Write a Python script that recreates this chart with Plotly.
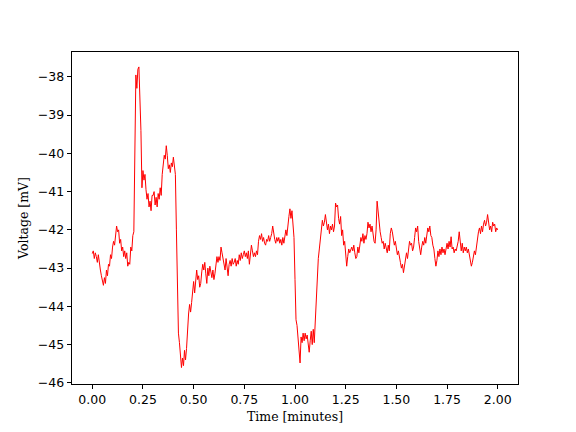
import numpy as np
import plotly.graph_objects as go

# Sampling grid of the recording (minutes)
t_start_min = 0.0
t_end_min = 2.0
n_samples = 401

# Voltage trace (mV), one row per 0.05 min
voltage_mv = [
    -42.62, -42.55, -42.75, -42.60, -42.70, -42.85, -42.65, -42.90, -43.05, -43.20,
    -43.30, -43.45, -43.25, -43.40, -43.05, -43.20, -42.90, -42.95, -42.65, -42.75,
    -42.45, -42.30, -42.40, -42.05, -41.90, -42.05, -42.00, -42.35, -42.25, -42.55,
    -42.45, -42.70, -42.55, -42.75, -42.60, -42.95, -42.85, -42.90, -42.45, -42.55,
    -42.15, -42.05, -39.00, -37.95, -38.30, -37.80, -37.74, -38.40, -39.40, -40.90,
    -40.45, -40.70, -40.55, -40.95, -41.20, -41.05, -41.40, -41.25, -41.50, -41.10,
    -41.10, -41.00, -41.35, -41.15, -41.40, -41.05, -41.20, -40.90, -41.10, -40.55,
    -40.30, -40.05, -40.15, -39.80, -40.05, -40.40, -40.30, -40.50, -40.25, -40.35,
    -40.10, -40.35, -40.55, -42.00, -43.80, -44.70, -44.95, -45.20, -45.60, -45.35,
    -45.55, -45.15, -45.40, -45.10, -44.45, -44.20, -43.95, -44.15, -43.90, -43.55,
    -43.35, -43.65, -43.25, -43.05, -43.30, -43.20, -43.50, -43.40, -43.10, -42.90,
    -43.05, -42.85, -43.15, -43.40, -43.00, -43.20, -42.95, -43.10, -43.25, -43.05,
    -43.30, -43.15, -42.85, -42.70, -42.85, -42.70, -42.80, -42.45, -42.60, -42.75,
    -42.80, -43.05, -42.75, -42.95, -43.20, -42.90, -42.80, -42.95, -42.75, -42.90,
    -42.85, -42.75, -42.95, -42.80, -42.90, -42.65, -42.80, -42.60, -42.75, -42.65,
    -42.55, -42.70, -42.60, -42.75, -42.55, -42.90, -42.60, -42.40, -42.55, -42.70,
    -42.60, -42.70, -42.55, -42.65, -42.30, -42.15, -42.25, -42.10, -42.30, -42.20,
    -42.35, -42.40, -42.25, -42.30, -42.15, -42.30, -42.20, -42.10, -41.90, -42.10,
    -42.25, -42.35, -42.20, -42.30, -42.20, -42.35, -42.25, -42.40, -42.20, -42.35,
    -42.10, -42.00, -42.15, -41.80, -41.65, -41.45, -41.70, -41.50, -41.80, -42.20,
    -43.30, -44.35, -44.50, -44.85, -45.15, -45.48, -44.80, -44.95, -44.70, -44.90,
    -44.70, -44.85, -44.75, -45.00, -45.20, -44.90, -44.65, -45.00, -44.60, -44.95,
    -44.40, -43.50, -43.00, -42.75, -42.50, -42.25, -41.95, -41.75, -41.90, -41.80,
    -41.60, -41.85, -42.00, -41.85, -42.10, -41.90, -42.00, -41.85, -42.05, -41.90,
    -41.30, -41.40, -41.35, -41.70, -41.85, -41.65, -42.15, -42.00, -42.40, -42.30,
    -42.65, -42.95, -42.70, -42.50, -42.60, -42.50, -42.45, -42.55, -42.40, -42.60,
    -42.75, -42.70, -42.45, -42.60, -42.35, -42.20, -42.30, -42.10, -42.35, -42.15,
    -42.25, -42.10, -41.80, -41.95, -41.85, -42.05, -41.90, -42.20, -42.30, -42.35,
    -42.00, -41.25, -41.60, -41.75, -42.05, -42.20, -42.35, -42.30, -42.50, -42.35,
    -42.45, -42.60, -42.40, -42.55, -42.10, -41.95, -42.05, -42.25, -42.40, -42.30,
    -42.50, -42.65, -42.55, -42.75, -42.85, -43.00, -42.90, -43.12, -42.95, -42.80,
    -42.60, -42.75, -42.40, -42.30, -42.40, -42.35, -42.55, -42.45, -42.20, -41.95,
    -42.05, -41.90, -42.30, -42.55, -42.65, -42.45, -42.30, -42.40, -42.20, -42.35,
    -42.10, -41.95, -42.05, -41.90, -42.15, -42.20, -42.40, -42.50, -42.75, -42.95,
    -42.80, -42.55, -42.70, -42.50, -42.65, -42.45, -42.60, -42.50, -42.65, -42.45,
    -42.35, -42.50, -42.30, -42.45, -42.18, -42.50, -42.45, -42.60, -42.50, -42.55,
    -42.45, -42.30, -42.05, -42.40, -42.55, -42.35, -42.60, -42.45, -42.55, -42.45,
    -42.60, -42.50, -42.65, -42.75, -42.95, -42.85, -42.70, -42.55, -42.65, -42.45,
    -42.20, -42.05, -41.95, -42.10, -41.90, -42.05, -41.85, -41.75, -41.90, -41.80,
    -41.60, -41.75, -42.00, -41.90, -42.05, -41.80, -41.90, -41.85, -42.05, -41.95,
    -42.00,
]

time_min = np.linspace(t_start_min, t_end_min, n_samples)

x_tick_vals = [0.0, 0.25, 0.5, 0.75, 1.0, 1.25, 1.5, 1.75, 2.0]
x_tick_text = ["0.00", "0.25", "0.50", "0.75", "1.00", "1.25", "1.50", "1.75", "2.00"]
y_tick_vals = [-38, -39, -40, -41, -42, -43, -44, -45, -46]
y_tick_text = ["\u221238", "\u221239", "\u221240", "\u221241", "\u221242",
               "\u221243", "\u221244", "\u221245", "\u221246"]

fig = go.Figure()
fig.add_trace(go.Scatter(
    x=time_min, y=voltage_mv, mode="lines",
    line=dict(color="#ff0000", width=1.0),
    showlegend=False, hoverinfo="skip",
))

tick_font = dict(family="DejaVu Sans", size=12.5, color="black")
title_font = dict(family="DejaVu Serif", size=12.5, color="black")

# page body has an 8px margin, so the figure is 16px smaller and margins shifted by 8px
fig.update_layout(
    width=560, height=416,
    paper_bgcolor="white", plot_bgcolor="white",
    margin=dict(l=64, r=50, t=44, b=40, pad=0),
    xaxis=dict(
        range=[-0.1, 2.1], tickmode="array", tickvals=x_tick_vals, ticktext=x_tick_text,
        showgrid=False, zeroline=False, showline=True, linecolor="black", linewidth=1,
        mirror=True, ticks="outside", ticklen=4.4, tickwidth=1, tickcolor="black",
        tickfont=tick_font, automargin=False,
        title=dict(text="Time [minutes]", font=title_font, standoff=8),
    ),
    yaxis=dict(
        range=[-46.03, -37.35], tickmode="array", tickvals=y_tick_vals, ticktext=y_tick_text,
        showgrid=False, zeroline=False, showline=True, linecolor="black", linewidth=1,
        mirror=True, ticks="outside", ticklen=4.4, tickwidth=1, tickcolor="black",
        tickfont=tick_font, automargin=False,
        title=dict(text="Voltage [mV]", font=title_font, standoff=6),
    ),
)

fig.write_html("out.html")
